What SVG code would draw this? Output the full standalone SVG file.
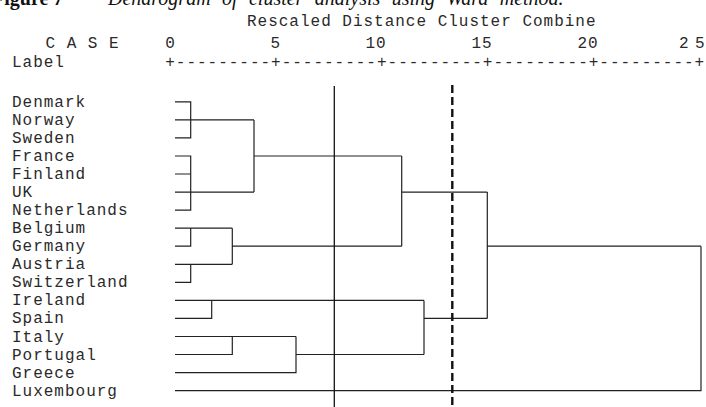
<svg xmlns="http://www.w3.org/2000/svg" width="706" height="407" viewBox="0 0 706 407">
  <style>
    .mono { font-family: "Liberation Mono", "Courier New", monospace; font-size: 16px; letter-spacing: 0.99px; fill: #2a2a2a; }
    .cap { font-family: "Liberation Serif", "Times New Roman", serif; font-size: 20px; fill: #111; }
    .tree { fill: none; stroke: #222; stroke-width: 1.2; }
    .cut { fill: none; stroke: #111; stroke-width: 1.3; }
    .cut-dash { fill: none; stroke: #111; stroke-width: 2.4; stroke-dasharray: 8 4; }
  </style>
  <rect width="706" height="407" fill="#fff"/>

  <!-- caption, partly above the top edge -->
  <text class="cap" x="-8" y="5"><tspan font-weight="bold">Figure 7</tspan><tspan x="108" font-style="italic" word-spacing="6.4">Dendrogram of cluster analysis using Ward method.</tspan></text>

  <!-- axis header -->
  <g id="axis-header" class="mono">
    <text x="247" y="26">Rescaled Distance Cluster Combine</text>
    <text x="45.5" y="47.5">C A S E</text>
    <text x="165.2" y="47.5">0</text>
    <text x="270.5" y="47.5">5</text>
    <text x="365.5" y="47.5">10</text>
    <text x="471.5" y="47.5">15</text>
    <text x="577.5" y="47.5">20</text>
    <text x="679" y="47.5">2</text>
    <text x="695" y="47.5">5</text>
    <text x="12" y="66.5">Label</text>
    <text x="165.2" y="66.5" textLength="540" lengthAdjust="spacing">+---------+---------+---------+---------+---------+</text>
  </g>

  <!-- case labels -->
  <g class="mono">
    <g id="denmark"><text x="12" y="106.8">Denmark</text></g>
    <g id="norway"><text x="12" y="124.9">Norway</text></g>
    <g id="sweden"><text x="12" y="142.9">Sweden</text></g>
    <g id="france"><text x="12" y="161">France</text></g>
    <g id="finland"><text x="12" y="179">Finland</text></g>
    <g id="uk"><text x="12" y="197.1">UK</text></g>
    <g id="netherlands"><text x="12" y="215.1">Netherlands</text></g>
    <g id="belgium"><text x="12" y="233.2">Belgium</text></g>
    <g id="germany"><text x="12" y="251.2">Germany</text></g>
    <g id="austria"><text x="12" y="269.3">Austria</text></g>
    <g id="switzerland"><text x="12" y="287.3">Switzerland</text></g>
    <g id="ireland"><text x="12" y="305.4">Ireland</text></g>
    <g id="spain"><text x="12" y="323.4">Spain</text></g>
    <g id="italy"><text x="12" y="341.5">Italy</text></g>
    <g id="portugal"><text x="12" y="359.5">Portugal</text></g>
    <g id="greece"><text x="12" y="377.6">Greece</text></g>
    <g id="luxembourg"><text x="12" y="395.6">Luxembourg</text></g>
  </g>

  <!-- dendrogram links -->
  <g id="connectors" class="tree">
    <!-- Denmark, Norway, Sweden -->
    <path d="M175 101.8H190.7V137.9H175M175 119.9H254"/>
    <!-- France, Finland, UK, Netherlands -->
    <path d="M175 156H190.7V210.1H175M175 174H190.7M175 192.1H254"/>
    <path d="M254 119.9V192.1M254 156H401.7"/>
    <!-- Belgium, Germany, Austria, Switzerland -->
    <path d="M175 228.2H232.3M190.7 228.2V246.2H175"/>
    <path d="M175 264.3H232.3M190.7 264.3V282.3H175"/>
    <path d="M232.3 228.2V264.3M232.3 246.2H401.7"/>
    <path d="M401.7 156V246.2M401.7 192.1H487.3"/>
    <!-- Ireland, Spain -->
    <path d="M175 300.4H424M175 318.4H211.7V300.4"/>
    <!-- Italy, Portugal, Greece -->
    <path d="M175 336.5H296M175 354.5H232.3V336.5M175 372.6H296V336.5M296 354.5H424"/>
    <path d="M424 300.4V354.5M424 318.4H487.3"/>
    <path d="M487.3 192.1V318.4M487.3 246.2H701"/>
    <!-- Luxembourg -->
    <path d="M175 390.6H701V246.2"/>
  </g>

  <!-- cut levels -->
  <g id="cut-lines">
    <path class="cut" d="M334.3 86V407"/>
    <path class="cut-dash" d="M452.3 85V407"/>
  </g>
</svg>
